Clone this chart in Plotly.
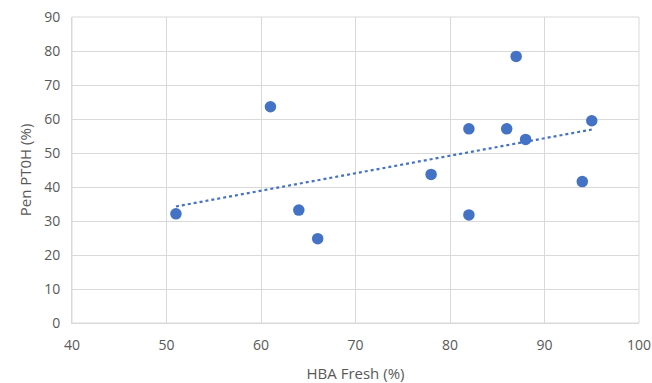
import numpy as np
import plotly.graph_objects as go

hba_fresh = [51, 61, 64, 66, 78, 82, 82, 86, 87, 88, 94, 95]
pen_pt0h = [32.1, 63.6, 33.2, 24.8, 43.7, 57.1, 31.8, 57.1, 78.4, 54.0, 41.6, 59.5]

x_title = "HBA Fresh (%)"
y_title = "Pen PT0H (%)"

blue = "#4472C4"
grid = "#D9D9D9"
txt = "#595959"

slope, intercept = np.polyfit(hba_fresh, pen_pt0h, 1)
tx = np.array([min(hba_fresh), max(hba_fresh)])
ty = slope * tx + intercept

fig = go.Figure()
fig.add_trace(go.Scatter(x=tx, y=ty, mode="lines",
                         line=dict(color=blue, width=2.2, dash="dot"),
                         hoverinfo="skip", showlegend=False))
fig.add_trace(go.Scatter(x=hba_fresh, y=pen_pt0h, mode="markers",
                         marker=dict(color=blue, size=11.5, line=dict(width=0)),
                         showlegend=False))

font = dict(family="Open Sans, Liberation Sans, sans-serif", size=14, color=txt)

fig.update_layout(
    width=652, height=383,
    margin=dict(l=72, r=13, t=17, b=60, autoexpand=False),
    paper_bgcolor="white", plot_bgcolor="white",
    font=font,
    xaxis=dict(range=[40, 100], dtick=10, tick0=40, showgrid=True, gridcolor=grid, gridwidth=1,
               showline=True, linecolor=grid, linewidth=1, zeroline=False, automargin=False,
               ticks="", ticklabelstandoff=9,
               title=dict(text=x_title, font=dict(size=15, color=txt), standoff=16)),
    yaxis=dict(range=[0, 90], dtick=10, showgrid=True, gridcolor=grid, gridwidth=1,
               showline=True, linecolor=grid, linewidth=1, zeroline=False, automargin=False,
               ticks="", ticklabelstandoff=8,
               title=dict(text=y_title, font=dict(size=15, color=txt), standoff=8)),
)
fig.add_shape(type="rect", xref="paper", yref="paper", x0=0, y0=0, x1=1, y1=1,
              line=dict(color=grid, width=1), layer="below")

fig.write_html("out.html", config={"displayModeBar": False},
               post_script="document.body.style.margin='0';document.body.style.overflow='hidden';")
